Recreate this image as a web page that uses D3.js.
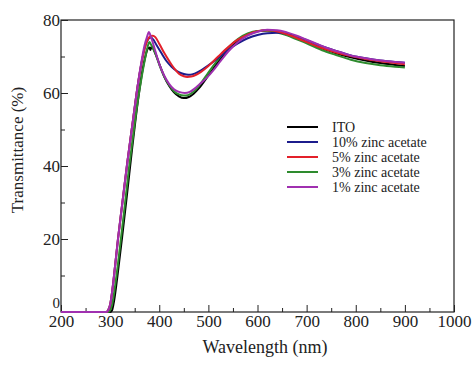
<!DOCTYPE html>
<html><head><meta charset="utf-8">
<script src="https://cdn.jsdelivr.net/npm/d3@7"></script>
<style>body{margin:0;background:#fff;} svg{display:block;} svg text{font-family:"Times New Roman","Liberation Serif",Times,serif !important;}</style>
</head><body><svg id="c" width="474" height="365"></svg>
<script>
const seriesNames = ["ITO","10% zinc acetate","5% zinc acetate","3% zinc acetate","1% zinc acetate"];
const seriesColors = ["#000000","#1c1c8c","#e3202a","#2e8b2e","#a030b0"];
const xTicks = [200,300,400,500,600,700,800,900,1000];
const yTicks = [0,20,40,60,80];

const itoWl  = [200,290,300,304,308,315,324,335,345,352,362,370,376,380,382,385,390,400,410,420,430,440,450,460,470,480,500,520,540,560,580,600,620,640,660,680,700,720,740,760,790,820,850,880,900];
const itoT   = [0,0,0,0.5,3,10,20,33,45,53,63,69,72,72.5,71.8,72.8,71.5,68,64.5,62,60.2,59.1,58.6,58.9,59.8,61.2,64.8,68.5,71.8,74.3,76,76.9,77.1,76.8,76,75,73.9,72.8,71.8,70.9,69.8,68.9,68.2,67.7,67.4];

const zn10Wl = [200,285,292,296,300,305,310,316,325,335,346,355,365,372,378,383,388,395,405,415,425,435,445,455,463,472,482,500,520,540,560,580,600,620,640,660,680,700,720,740,760,790,820,850,880,900];
const zn10T  = [0,0,0,0.5,2,6.5,12.5,20,30,41,52,61,69,73,74.8,75.2,74.6,73,70.8,68.7,67.2,66.1,65.4,65.05,65,65.3,66,67.6,69.6,71.8,73.6,75,75.9,76.4,76.5,76.2,75.5,74.5,73.4,72.4,71.5,70.3,69.5,68.9,68.5,68.3];

const zn5Wl  = [200,285,292,296,300,305,310,316,325,335,346,355,365,372,378,383,387,392,400,410,420,430,440,450,457,465,475,485,500,520,540,560,580,600,615,630,650,670,690,710,730,760,790,820,850,880,900];
const zn5T   = [0,0,0,0.5,2,6.5,12.5,20,30,41,52,61,69,73,75,75.6,75.7,75.3,73.5,71,68.8,66.8,65.3,64.6,64.4,64.5,65,65.8,67.4,70,72.5,74.6,76,76.9,77.2,77.1,76.5,75.6,74.5,73.4,72.4,71.1,70.1,69.3,68.7,68.2,67.9];

const zn3Wl  = [200,288,296,300,304,310,318,328,338,348,356,365,372,377,380,383,387,393,400,410,420,430,440,450,458,466,475,485,500,520,540,560,580,600,620,640,660,680,700,720,740,760,790,820,850,880,900];
const zn3T   = [0,0,0,0.5,2,7,15.5,27,39,49.5,57.5,65,70,73,74,73.3,72.3,70.5,67.8,64.6,62.2,60.5,59.6,59.3,59.4,60,61,62.7,65.6,69.2,72.4,74.8,76.3,77,77.1,76.6,75.8,74.7,73.6,72.4,71.3,70.4,69.1,68.2,67.6,67.2,67];

const zn1Wl  = [200,285,292,296,300,305,310,316,325,335,346,355,363,370,375,379,382,386,392,400,410,420,430,440,452,462,472,482,497,510,525,540,560,580,600,620,640,660,680,700,720,740,760,790,820,850,880,900];
const zn1T   = [0,0,0,0.5,2,6.5,12.5,20,30,41,52,61,68,73,75.3,76.7,75.8,74.2,71.5,68,64.8,62.5,61,60.3,60,60.3,61.2,62.4,64.2,66.2,68.8,71.3,73.9,75.7,76.8,77.3,77.2,76.6,75.7,74.6,73.5,72.4,71.5,70.3,69.5,68.9,68.5,68.3];

const seriesWl = [itoWl, zn10Wl, zn5Wl, zn3Wl, zn1Wl];
const seriesT  = [itoT, zn10T, zn5T, zn3T, zn1T];

const svg = d3.select("#c");
const m = {l:61, r:454, t:20, b:312};
const x = d3.scaleLinear().domain([200,1000]).range([m.l, m.r]);
const y = d3.scaleLinear().domain([0,80]).range([m.b, m.t]);

// frame
svg.append("rect").attr("x",m.l).attr("y",m.t).attr("width",m.r-m.l).attr("height",m.b-m.t)
  .attr("fill","none").attr("stroke","#222").attr("stroke-width",1.2);

// x axis
const xAx = svg.append("g").attr("transform",`translate(0,${m.b})`)
  .call(d3.axisBottom(x).tickValues(d3.range(200,1001,50)).tickSize(-5).tickFormat(d => xTicks.includes(d) ? d : ""));
xAx.select(".domain").remove();
xAx.selectAll(".tick line").attr("stroke","#222").attr("y2", d => xTicks.includes(d) ? -7 : -4);
xAx.selectAll(".tick text").attr("y",3).attr("font-size",17).attr("fill","#222");

// y axis
const yAx = svg.append("g").attr("transform",`translate(${m.l},0)`)
  .call(d3.axisLeft(y).tickValues(d3.range(0,81,10)).tickSize(-5).tickFormat(d => yTicks.includes(d) ? d : ""));
yAx.select(".domain").remove();
yAx.selectAll(".tick line").attr("stroke","#222").attr("x2", d => yTicks.includes(d) ? 7 : 4);
yAx.selectAll(".tick text").attr("x",-1).attr("dy", d => d === 0 ? "-0.3em" : "0.32em").attr("font-size", d => d === 0 ? 15 : 17).attr("fill","#222");

// lines
const line = d3.line().x(d => x(d[0])).y(d => y(d[1])).curve(d3.curveMonotoneX);
const order = [0,3,1,2,4];
order.forEach(i => {
  const pts = seriesWl[i].map((w,j) => [w, seriesT[i][j]]);
  svg.append("path").datum(pts).attr("d", line).attr("fill","none")
    .attr("stroke", seriesColors[i]).attr("stroke-width",2).attr("stroke-linejoin","round");
});

// legend
const lg = svg.append("g");
seriesNames.forEach((n,i) => {
  const yy = 127 + i*15;
  lg.append("line").attr("x1",287).attr("x2",318).attr("y1",yy).attr("y2",yy)
    .attr("stroke",seriesColors[i]).attr("stroke-width",2);
  lg.append("text").attr("x",332).attr("y",yy).attr("dy","0.33em").attr("font-size",14).attr("fill","#222").text(n);
});

// axis titles
svg.append("text").attr("x",265).attr("y",353).attr("text-anchor","middle").attr("font-size",18).attr("fill","#222").text("Wavelength (nm)");
svg.append("text").attr("transform","translate(23,150) rotate(-90)").attr("text-anchor","middle").attr("font-size",17).attr("fill","#222").text("Transmittance (%)");
</script></body></html>
